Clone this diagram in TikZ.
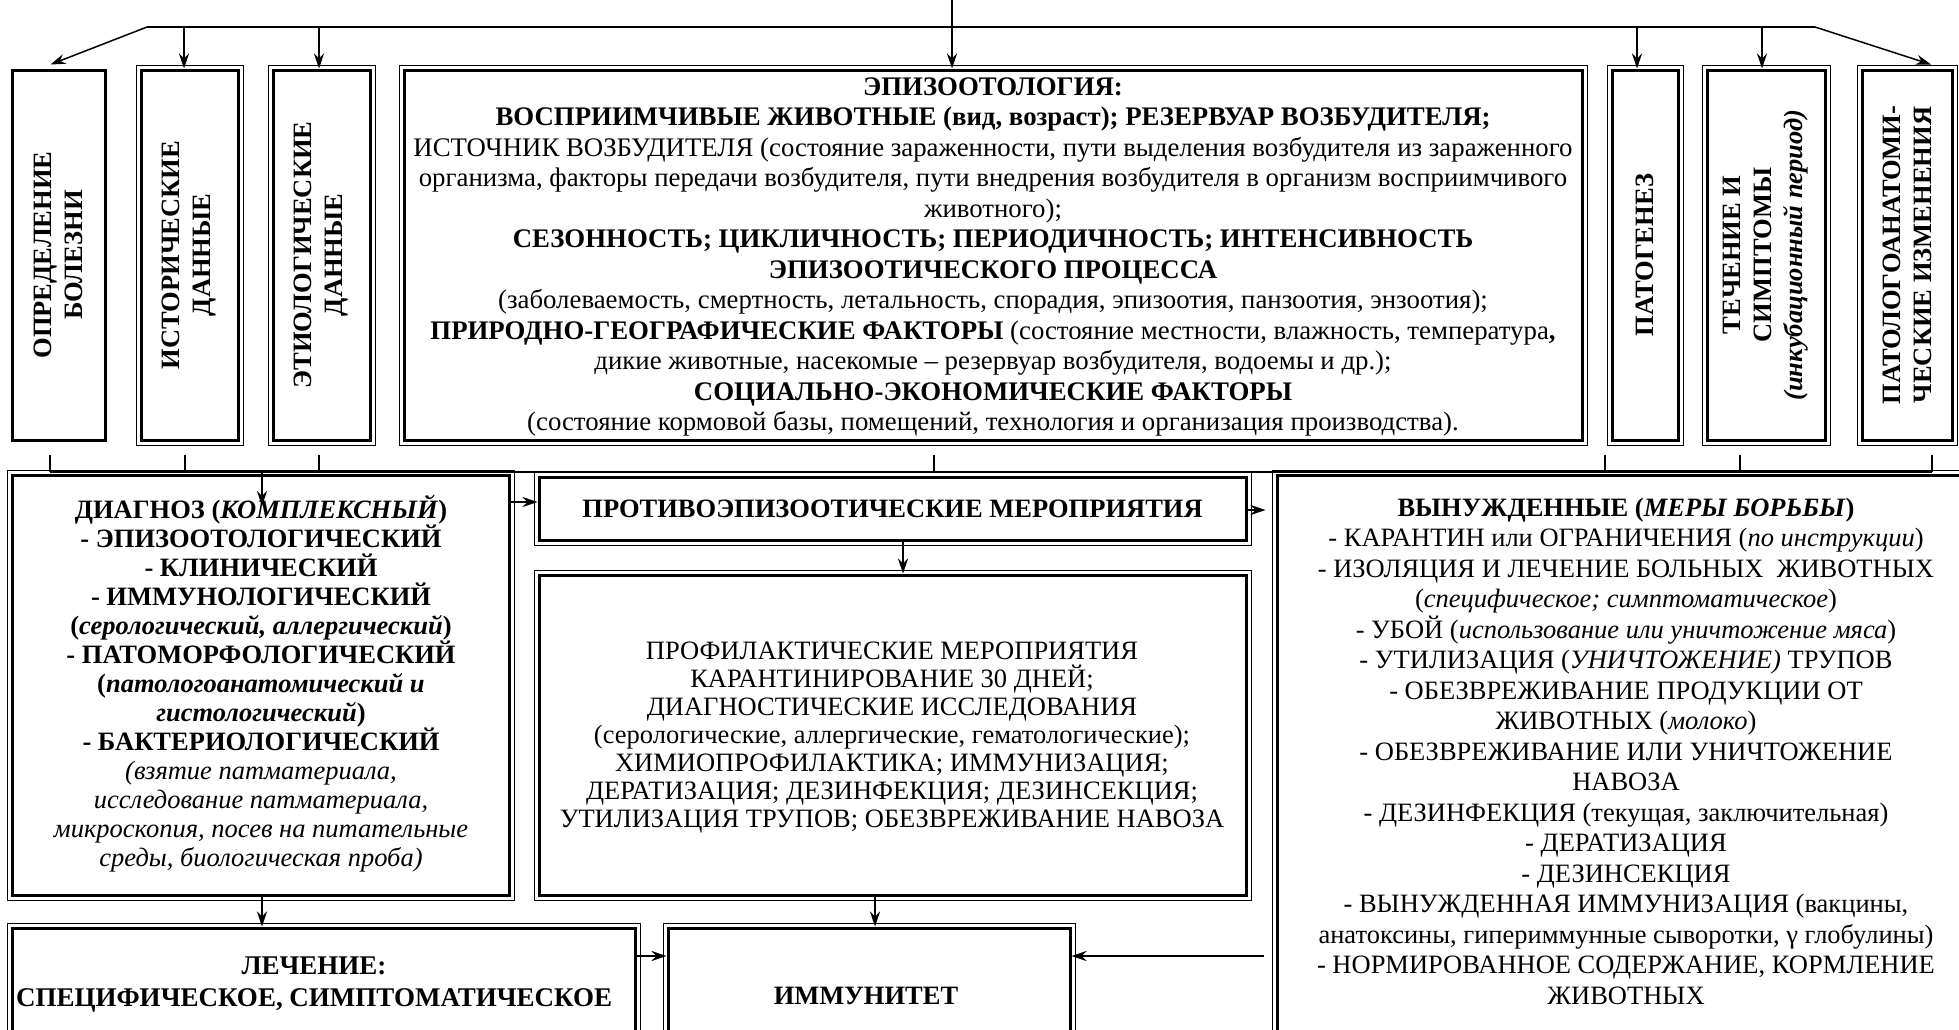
\documentclass[tikz,border=0pt]{standalone}
\usepackage{fontspec}
\setmainfont{Liberation Serif}
\usetikzlibrary{arrows.meta,fit,calc}
\newcommand{\dblrim}[1]{\draw[rim] ([xshift=-3.5pt,yshift=3.5pt]#1.north west) rectangle ([xshift=3.5pt,yshift=-3.5pt]#1.south east);}
\begin{document}
\begin{tikzpicture}[x=1pt,y=-1pt,
  conn/.style={line width=1.5pt},
  arr/.style={line width=1.5pt,-{Stealth[length=15pt,width=10pt,inset=5pt]}},
  tbox/.style={draw,line width=3pt,inner sep=0pt},
  rim/.style={line width=1pt},
  txt/.style={font=\fontsize{26.5}{30.5}\selectfont,align=center,inner sep=0pt},
  vtxt/.style={font=\fontsize{26.5}{31}\selectfont\bfseries,align=center,inner sep=0pt,rotate=90}]
\useasboundingbox (0,0) rectangle (1959,1029);
\clip (0,0) rectangle (1959,1029);
\fill[white] (0,0) rectangle (1959,1029);

% ---------- top row boxes
\node[tbox,fit={(12,70) (105,440)}] (b1) {};
\node[tbox,fit={(141,70) (238,440)}] (b2) {}; \dblrim{b2}
\node[tbox,fit={(273,70) (370,440)}] (b3) {}; \dblrim{b3}
\node[tbox,fit={(404,70) (1582,440)}] (b4) {}; \dblrim{b4}
\node[tbox,fit={(1612,70) (1678,440)}] (b5) {}; \dblrim{b5}
\node[tbox,fit={(1707,70) (1825,440)}] (b6) {}; \dblrim{b6}
\node[tbox,fit={(1862,70) (1952,440)}] (b7) {}; \dblrim{b7}

\node[vtxt] (v1) at (b1) {ОПРЕДЕЛЕНИЕ\\БОЛЕЗНИ};
\node[vtxt] (v2) at (b2) {ИСТОРИЧЕСКИЕ\\ДАННЫЕ};
\node[vtxt] (v3) at (b3) {ЭТИОЛОГИЧЕСКИЕ\\ДАННЫЕ};
\node[vtxt] (v5) at (b5) {ПАТОГЕНЕЗ};
\node[vtxt] (v6) at (b6) {ТЕЧЕНИЕ И\\СИМПТОМЫ\\\textit{(инкубационный период)}};
\node[vtxt] (v7) at (b7) {ПАТОЛОГОАНАТОМИ-\\ЧЕСКИЕ ИЗМЕНЕНИЯ};

\node[txt,font=\fontsize{26.8}{30.5}\selectfont] (t4) at (993,257) {\textbf{ЭПИЗООТОЛОГИЯ:}\\
\textbf{ВОСПРИИМЧИВЫЕ ЖИВОТНЫЕ (вид, возраст); РЕЗЕРВУАР ВОЗБУДИТЕЛЯ;}\\
ИСТОЧНИК ВОЗБУДИТЕЛЯ (состояние зараженности, пути выделения возбудителя из зараженного\\
организма, факторы передачи возбудителя, пути внедрения возбудителя в организм восприимчивого\\
животного);\\
\textbf{СЕЗОННОСТЬ; ЦИКЛИЧНОСТЬ; ПЕРИОДИЧНОСТЬ; ИНТЕНСИВНОСТЬ}\\
\textbf{ЭПИЗООТИЧЕСКОГО ПРОЦЕССА}\\
(заболеваемость, смертность, летальность, спорадия, эпизоотия, панзоотия, энзоотия);\\
\textbf{ПРИРОДНО-ГЕОГРАФИЧЕСКИЕ ФАКТОРЫ} (состояние местности, влажность, температура\textbf{,}\\
дикие животные, насекомые – резервуар возбудителя, водоемы и др.);\\
\textbf{СОЦИАЛЬНО-ЭКОНОМИЧЕСКИЕ ФАКТОРЫ}\\
(состояние кормовой базы, помещений, технология и организация производства).};

% ---------- top connectors
\coordinate (tl) at (147,27);
\coordinate (tr) at (1815,27);
\draw[conn] (tl) -- (tr);
\draw[arr] (tl) -- ($(b1.north)+(-8,-4)$);
\draw[arr] (tr) -- ($(b7.north)+(24,-4)$);
\coordinate (j2) at (184,27);
\coordinate (j3) at (319,27);
\coordinate (j4) at (952,0);
\coordinate (j5) at (1637,27);
\coordinate (j6) at (1762,27);
\draw[arr] (j2) -- (j2 |- b2.north);
\draw[arr] (j3) -- (j3 |- b3.north);
\draw[arr] (j4) -- (j4 |- b4.north);
\draw[arr] (j5) -- (j5 |- b5.north);
\draw[arr] (j6) -- (j6 |- b6.north);

% ---------- collector line
\coordinate (k1) at (50,472);
\coordinate (k2) at (185,472);
\coordinate (k3) at (319,472);
\coordinate (k4) at (934,472);
\coordinate (k5) at (1605,472);
\coordinate (k6) at (1740,472);
\coordinate (k7) at (1932,472);
\draw[conn] ($(k1 |- b1.south)+(0,13)$) -- (k1);
\draw[conn] ($(k2 |- b2.south)+(0,13)$) -- (k2);
\draw[conn] ($(k3 |- b3.south)+(0,13)$) -- (k3);
\draw[conn] ($(k4 |- b4.south)+(0,13)$) -- (k4);
\draw[conn] ($(k5 |- b5.south)+(0,13)$) -- (k5);
\draw[conn] ($(k6 |- b6.south)+(0,13)$) -- (k6);
\draw[conn] ($(k7 |- b7.south)+(0,13)$) -- (k7);
\draw[conn] (k1) -- (k7);

% ---------- lower boxes
\node[tbox,fit={(12,475) (509,895)}] (diag) {}; \dblrim{diag}
\node[tbox,fit={(539,477) (1246,540)}] (prot) {}; \dblrim{prot}
\node[tbox,fit={(539,575) (1246,895)}] (prof) {}; \dblrim{prof}
\node[tbox,fit={(1277,475) (2000,1100)}] (vyn) {}; \dblrim{vyn}
\node[tbox,fit={(12,928) (635,1100)}] (lech) {}; \dblrim{lech}
\node[tbox,fit={(668,928) (1070,1100)}] (imm) {}; \dblrim{imm}

\node[txt,font=\fontsize{26.5}{29}\selectfont] (tdiag) at (261,684) {\textbf{ДИАГНОЗ (\textit{КОМПЛЕКСНЫЙ})}\\
\textbf{- ЭПИЗООТОЛОГИЧЕСКИЙ}\\
\textbf{- КЛИНИЧЕСКИЙ}\\
\textbf{- ИММУНОЛОГИЧЕСКИЙ}\\
\textbf{(\textit{серологический, аллергический})}\\
\textbf{- ПАТОМОРФОЛОГИЧЕСКИЙ}\\
\textbf{(\textit{патологоанатомический и}}\\
\textbf{\textit{гистологический})}\\
\textbf{- БАКТЕРИОЛОГИЧЕСКИЙ}\\
\textit{(взятие патматериала,}\\
\textit{исследование патматериала,}\\
\textit{микроскопия, посев на питательные}\\
\textit{среды, биологическая проба)}};

\node[txt] (tprot) at (prot) {\textbf{ПРОТИВОЭПИЗООТИЧЕСКИЕ МЕРОПРИЯТИЯ}};

\node[txt,font=\fontsize{26.5}{28}\selectfont] (tprof) at (892,738) {ПРОФИЛАКТИЧЕСКИЕ МЕРОПРИЯТИЯ\\
КАРАНТИНИРОВАНИЕ 30 ДНЕЙ;\\
ДИАГНОСТИЧЕСКИЕ ИССЛЕДОВАНИЯ\\
(серологические, аллергические, гематологические);\\
ХИМИОПРОФИЛАКТИКА; ИММУНИЗАЦИЯ;\\
ДЕРАТИЗАЦИЯ; ДЕЗИНФЕКЦИЯ; ДЕЗИНСЕКЦИЯ;\\
УТИЛИЗАЦИЯ ТРУПОВ; ОБЕЗВРЕЖИВАНИЕ НАВОЗА};

\node[txt] (tvyn) at (1626,751) {\textbf{ВЫНУЖДЕННЫЕ (\textit{МЕРЫ БОРЬБЫ})}\\
- КАРАНТИН или ОГРАНИЧЕНИЯ (\textit{по инструкции})\\
- ИЗОЛЯЦИЯ И ЛЕЧЕНИЕ БОЛЬНЫХ\ \ ЖИВОТНЫХ\\
(\textit{специфическое; симптоматическое})\\
- УБОЙ (\textit{использование или уничтожение мяса})\\
- УТИЛИЗАЦИЯ (\textit{УНИЧТОЖЕНИЕ)} ТРУПОВ\\
- ОБЕЗВРЕЖИВАНИЕ ПРОДУКЦИИ ОТ\\
ЖИВОТНЫХ (\textit{молоко})\\
- ОБЕЗВРЕЖИВАНИЕ ИЛИ УНИЧТОЖЕНИЕ\\
НАВОЗА\\
- ДЕЗИНФЕКЦИЯ (текущая, заключительная)\\
- ДЕРАТИЗАЦИЯ\\
- ДЕЗИНСЕКЦИЯ\\
- ВЫНУЖДЕННАЯ ИММУНИЗАЦИЯ (вакцины,\\
анатоксины, гипериммунные сыворотки, γ глобулины)\\
- НОРМИРОВАННОЕ СОДЕРЖАНИЕ, КОРМЛЕНИЕ\\
ЖИВОТНЫХ};

\node[txt,font=\fontsize{27}{32}\selectfont] (tlech) at (314,985) {\textbf{ЛЕЧЕНИЕ:}\\\textbf{СПЕЦИФИЧЕСКОЕ, СИМПТОМАТИЧЕСКОЕ}};
\node[txt] (timm) at (866,996) {\textbf{ИММУНИТЕТ}};

% ---------- lower connectors
\coordinate (k0) at (262,472);
\draw[arr] (k0) -- ++(0,34);
\coordinate (m1) at (0,502);
\draw[arr] (diag.east |- m1) -- (prot.west |- m1);
\coordinate (m2) at (0,510);
\draw[arr,shorten >=10pt] (prot.east |- m2) -- (vyn.west |- m2);
\coordinate (m3) at (903,0);
\draw[arr] (m3 |- prot.south) -- (m3 |- prof.north);
\coordinate (m4) at (875,0);
\draw[arr] (m4 |- prof.south) -- (m4 |- imm.north);
\coordinate (m5) at (262,0);
\draw[arr] (m5 |- diag.south) -- (m5 |- lech.north);
\coordinate (m6) at (0,956);
\draw[arr] (lech.east |- m6) -- (imm.west |- m6);
\draw[arr,shorten <=12pt] (vyn.west |- m6) -- (imm.east |- m6);
\end{tikzpicture}
\end{document}
